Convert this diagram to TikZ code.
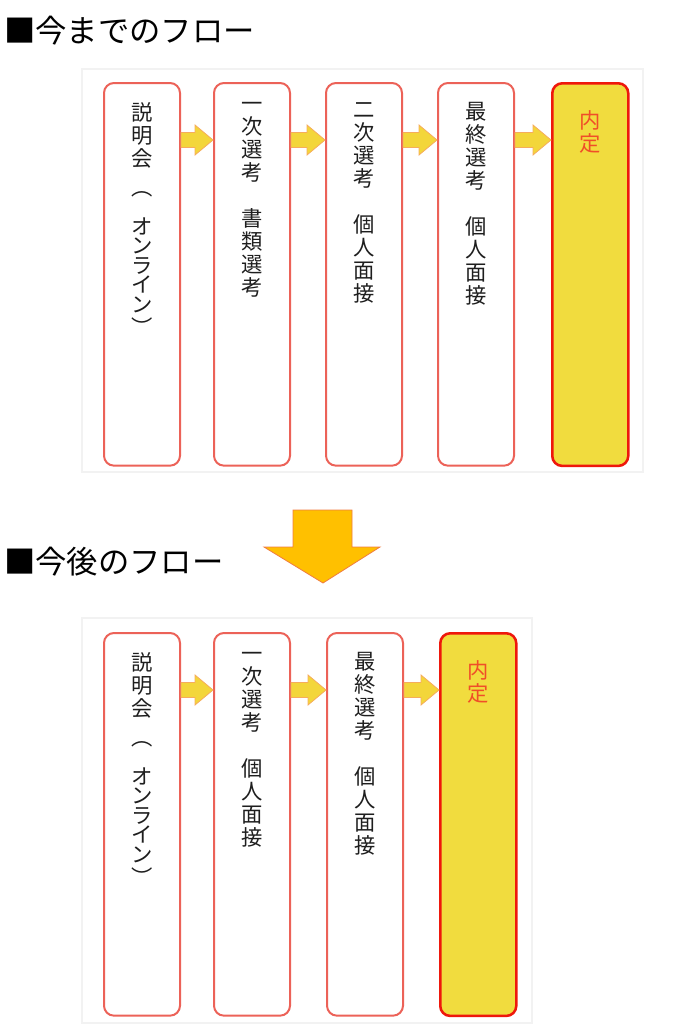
\documentclass[tikz,border=0pt]{standalone}
\usepackage{fontspec}
\setmainfont{Noto Sans CJK JP}
\usetikzlibrary{positioning,calc}

\definecolor{bordaetapa}{RGB}{236,98,88}
\definecolor{bordafinal}{RGB}{238,24,12}
\definecolor{amarelofinal}{RGB}{241,220,62}
\definecolor{amareloseta}{RGB}{243,214,58}
\definecolor{contornoseta}{RGB}{246,172,92}
\definecolor{laranjagrande}{RGB}{255,192,0}
\definecolor{contornogrande}{RGB}{240,124,64}
\definecolor{textoetapa}{RGB}{30,30,30}
\definecolor{textofinal}{RGB}{240,78,40}

\begin{document}
\begin{tikzpicture}[
    x=0.75pt, y=-0.75pt,
    etapa/.style={draw=bordaetapa,line width=1.5pt,rounded corners=7.5pt,
        fill=white,minimum width=57pt,minimum height=287pt,anchor=north west},
    final/.style={etapa,draw=bordafinal,line width=1.9pt,fill=amarelofinal},
    texto/.style={align=center,inner sep=0pt,text=textoetapa,
        font=\fontsize{16}{17.25}\selectfont},
    textofim/.style={texto,text=textofinal},
    titulo/.style={anchor=west,inner sep=0pt,font=\fontsize{23.5}{28}\selectfont},
    painel/.style={draw=black!5,line width=0.8pt},
    seta/.style={draw=contornoseta,fill=amareloseta,line width=0.6pt,
        to path={let \p1=(\tikztostart), \p2=(\tikztotarget) in
            (\x1,\y1+5.6pt) -- (\x2-13.5pt,\y1+5.6pt) -- (\x2-13.5pt,\y1+11.25pt)
            -- (\x2,\y1) -- (\x2-13.5pt,\y1-11.25pt) -- (\x2-13.5pt,\y1-5.6pt)
            -- (\x1,\y1-5.6pt) -- cycle}},
    setagrande/.style={draw=contornogrande,fill=laranjagrande,line width=0.6pt}
]
\useasboundingbox (0,0) rectangle (697,1025);

% fluxo antigo
\node[titulo] (tit1) at (4,31) {■今までのフロー};
\draw[painel] (82,69) rectangle (643,472);
\node[etapa] (a1) at (103,82) {};
\node[etapa] (a2) at (213,82) {};
\node[etapa] (a3) at (325,82) {};
\node[etapa] (a4) at (437,82) {};
\node[final] (a5) at (551,82) {};

\node[texto,below=15pt of a1.north] (ta1)
    {説\\明\\会\\[4.5pt]︵\\[12pt]オ\\[-2.6pt]ン\\[-2.6pt]ラ\\[-2.6pt]イ\\[-2.6pt]ン\\︶};
\node[texto,below=15pt of a2.north] (ta2) {一\\次\\選\\考\\　\\書\\類\\選\\考};
\node[texto,below=15pt of a3.north] (ta3) {二\\次\\選\\考\\　\\個\\人\\面\\接};
\node[texto,below=15pt of a4.north] (ta4) {最\\終\\選\\考\\　\\個\\人\\面\\接};
\node[textofim,below=21pt of a5.north] (ta5) {内\\定};

\draw[seta] ([yshift=-43.5pt]a1.north east) to ([yshift=-43.5pt]a2.north west);
\draw[seta] ([yshift=-43.5pt]a2.north east) to ([yshift=-43.5pt]a3.north west);
\draw[seta] ([yshift=-43.5pt]a3.north east) to ([yshift=-43.5pt]a4.north west);
\draw[seta] ([yshift=-43.5pt]a4.north east) to ([yshift=-43.5pt]a5.north west);

% seta grande
\draw[setagrande] (293,510) -- (352,510) -- (352,547) -- (380,547)
    -- (323,583) -- (264,547) -- (293,547) -- cycle;

% fluxo novo
\node[titulo] (tit2) at (4,562) {■今後のフロー};
\draw[painel] (82,618) rectangle (532,1023);
\node[etapa] (b1) at (103,632) {};
\node[etapa] (b2) at (213,632) {};
\node[etapa] (b3) at (326,632) {};
\node[final] (b4) at (439,632) {};

\node[texto,below=15pt of b1.north] (tb1)
    {説\\明\\会\\[4.5pt]︵\\[12pt]オ\\[-2.6pt]ン\\[-2.6pt]ラ\\[-2.6pt]イ\\[-2.6pt]ン\\︶};
\node[texto,below=15pt of b2.north] (tb2) {一\\次\\選\\考\\　\\個\\人\\面\\接};
\node[texto,below=15pt of b3.north] (tb3) {最\\終\\選\\考\\　\\個\\人\\面\\接};
\node[textofim,below=21pt of b4.north] (tb4) {内\\定};

\draw[seta] ([yshift=-43.5pt]b1.north east) to ([yshift=-43.5pt]b2.north west);
\draw[seta] ([yshift=-43.5pt]b2.north east) to ([yshift=-43.5pt]b3.north west);
\draw[seta] ([yshift=-43.5pt]b3.north east) to ([yshift=-43.5pt]b4.north west);
\end{tikzpicture}
\end{document}
